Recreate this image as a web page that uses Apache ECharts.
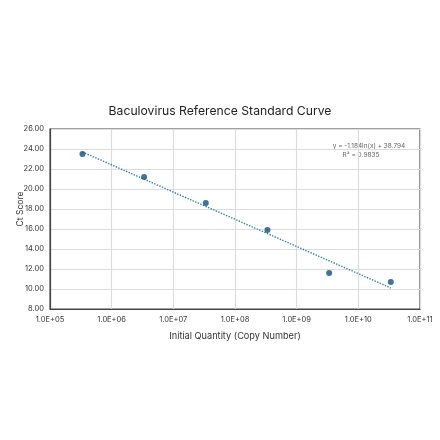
<!DOCTYPE html>
<html>
<head>
<meta charset="utf-8">
<script src="https://cdn.jsdelivr.net/npm/echarts@6/dist/echarts.min.js"></script>
<style>
  html, body { margin: 0; padding: 0; background: #fff; }
  #chart { width: 440px; height: 440px; }
</style>
</head>
<body>
<div id="chart"></div>
<script>
// values
const copyNumber = [3.36e5, 3.36e6, 3.36e7, 3.36e8, 3.36e9, 3.36e10];
const ctScore = [23.5, 21.2, 18.6, 15.9, 11.6, 10.7];
// ends of the fitted log trendline as drawn
const trendX = [3.36e5, 3.36e10];
const trendY = [23.7, 10.1];
const equationLines = ['y = -1.184ln(x) + 38.794', 'R\u00B2 = 0.9835'];

const font = 'Inter';

function expLabel(v) {
  const p = Math.round(Math.log10(v));
  return '1.0E+' + (p < 10 ? '0' + p : p);
}

const chart = echarts.init(document.getElementById('chart'));

const option = {
  backgroundColor: '#fff',
  animation: false,
  textStyle: { fontFamily: font },
  title: {
    text: 'Baculovirus Reference Standard Curve',
    left: 'center',
    top: 100,
    textStyle: { fontSize: 12.2, fontWeight: 'normal', color: '#222', fontFamily: font }
  },
  grid: {
    left: 50, right: 20, top: 129, bottom: 131,
    show: true, borderColor: '#444', borderWidth: 1.2
  },
  xAxis: {
    type: 'log',
    logBase: 10,
    min: 1e5,
    max: 1e11,
    interval: 1,
    name: 'Initial Quantity (Copy Number)',
    nameLocation: 'middle',
    nameGap: 23,
    nameTextStyle: { fontSize: 9.2, color: '#333' },
    axisLine: { lineStyle: { color: '#444', width: 1.2 } },
    axisTick: { show: false },
    axisLabel: { fontSize: 7.5, color: '#333', margin: 7, formatter: expLabel },
    splitLine: { show: true, lineStyle: { color: '#dcdcdc', width: 1.2 } },
    minorTick: { show: false },
    minorSplitLine: { show: false }
  },
  yAxis: {
    type: 'value',
    min: 8,
    max: 26,
    interval: 2,
    axisLine: { show: true, lineStyle: { color: '#444', width: 1.2 } },
    axisTick: { show: false },
    axisLabel: { fontSize: 7.5, color: '#333', margin: 6, formatter: v => v.toFixed(2) },
    splitLine: { show: true, lineStyle: { color: '#dcdcdc', width: 1.2 } }
  },
  series: [
    {
      type: 'line',
      data: trendX.map((x, i) => [x, trendY[i]]),
      symbol: 'none',
      lineStyle: { type: 'dotted', color: '#2f7fa6', width: 1.4 },
      z: 2
    },
    {
      type: 'scatter',
      data: copyNumber.map((x, i) => [x, ctScore[i]]),
      symbolSize: 6,
      itemStyle: { color: '#12507a' },
      z: 3
    }
  ],
  graphic: [
    {
      type: 'text',
      x: 20,
      y: 209,
      rotation: Math.PI / 2,
      style: {
        text: 'Ct Score',
        fontSize: 8.5,
        fill: '#333',
        fontFamily: font,
        align: 'center',
        verticalAlign: 'middle'
      }
    },
    {
      type: 'text',
      x: 369,
      y: 146,
      style: {
        text: equationLines[0],
        fontSize: 6.5,
        fill: '#666',
        fontFamily: font,
        align: 'center',
        verticalAlign: 'middle'
      }
    },
    {
      type: 'text',
      x: 361,
      y: 155,
      style: {
        text: equationLines[1],
        fontSize: 6.5,
        fill: '#666',
        fontFamily: font,
        align: 'center',
        verticalAlign: 'middle'
      }
    }
  ]
};

chart.setOption(option);
</script>
</body>
</html>
